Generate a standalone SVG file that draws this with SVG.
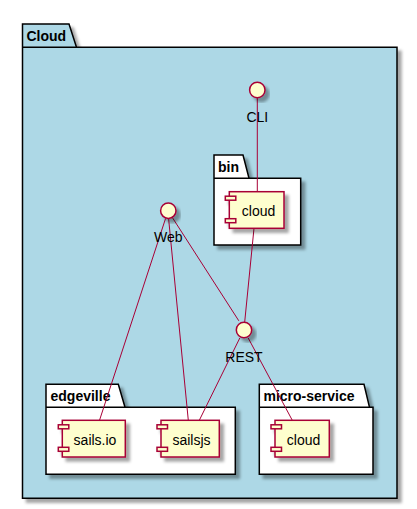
<svg xmlns="http://www.w3.org/2000/svg" width="417" height="509" viewBox="0 0 417 509">
<defs>
<filter id="sh" x="-20%" y="-20%" width="150%" height="150%">
<feGaussianBlur in="SourceAlpha" stdDeviation="1.8"/>
<feOffset dx="3.5" dy="3.5" result="b"/>
<feFlood flood-color="#000" flood-opacity="0.35"/>
<feComposite in2="b" operator="in"/>
<feMerge><feMergeNode/><feMergeNode in="SourceGraphic"/></feMerge>
</filter>
<g id="comp-ports" fill="#FEFECE" stroke="#A80036" stroke-width="1.5">
<rect x="-4" y="4.5" width="10.5" height="4"/>
<rect x="-4" y="27" width="10.5" height="4"/>
</g>
</defs>
<style>
.pkg{stroke:#000;stroke-width:1.5;fill:#fff}
.cloudpkg{fill:#ADD8E6}
.ptitle{font-family:"Liberation Sans",Arial,sans-serif;font-size:14px;font-weight:bold;fill:#000}
.comp rect{fill:#FEFECE;stroke:#A80036;stroke-width:1.5}
.iface circle{fill:#FEFECE;stroke:#A80036;stroke-width:1.5}
.lbl{font-family:"Liberation Sans",Arial,sans-serif;font-size:14px;fill:#000;text-anchor:middle}
.conn line{stroke:#A80036;stroke-width:1}
</style>
<rect width="417" height="509" fill="#fff"/>

<g id="pkg-Cloud">
<path class="pkg cloudpkg" filter="url(#sh)" d="M22.5,24 L69,24 L76.5,47.3 L397,47.3 L397,498.3 L22.5,498.3 Z"/>
<line x1="22.5" y1="47.3" x2="76.5" y2="47.3" stroke="#000" stroke-width="1.5"/>
<text class="ptitle" x="26.5" y="41">Cloud</text>
</g>

<g id="pkg-bin">
<path class="pkg" filter="url(#sh)" d="M214,155 L243,155 L249,178.3 L300.7,178.3 L300.7,245 L214,245 Z"/>
<line x1="214" y1="178.3" x2="249" y2="178.3" stroke="#000" stroke-width="1.5"/>
<text class="ptitle" x="218" y="172">bin</text>
</g>

<g id="pkg-edgeville">
<path class="pkg" filter="url(#sh)" d="M46,384.3 L118.3,384.3 L125,407.3 L235.3,407.3 L235.3,474.3 L46,474.3 Z"/>
<line x1="46" y1="407.3" x2="125" y2="407.3" stroke="#000" stroke-width="1.5"/>
<text class="ptitle" x="50.5" y="401">edgeville</text>
</g>

<g id="pkg-micro-service">
<path class="pkg" filter="url(#sh)" d="M259.3,384.3 L364,384.3 L369.5,407.3 L373,407.3 L373,474.3 L259.3,474.3 Z"/>
<line x1="259.3" y1="407.3" x2="369.5" y2="407.3" stroke="#000" stroke-width="1.5"/>
<text class="ptitle" x="263.5" y="401">micro-service</text>
</g>

<g id="connectors" class="conn">
<line x1="257.3" y1="98" x2="257.3" y2="191.7"/>
<line x1="165.6" y1="218.4" x2="99.5" y2="420.3"/>
<line x1="168.6" y1="218.7" x2="188.3" y2="420.3"/>
<line x1="172" y1="217" x2="238.8" y2="320.8"/>
<line x1="254" y1="228.3" x2="244.7" y2="322"/>
<line x1="239.8" y1="338" x2="199.3" y2="420.3"/>
<line x1="248.2" y1="338" x2="292.3" y2="420.3"/>
</g>

<g id="iface-CLI" class="iface">
<circle cx="257.3" cy="90" r="7.7" filter="url(#sh)"/>
<text class="lbl" x="257.3" y="121.5">CLI</text>
</g>
<g id="iface-Web" class="iface">
<circle cx="168.3" cy="210.7" r="7.7" filter="url(#sh)"/>
<text class="lbl" x="168.3" y="242.3">Web</text>
</g>
<g id="iface-REST" class="iface">
<circle cx="244" cy="330" r="7.7" filter="url(#sh)"/>
<text class="lbl" x="244" y="362">REST</text>
</g>

<g id="comp-bin-cloud" class="comp">
<g filter="url(#sh)">
<rect x="229.3" y="191.7" width="54.7" height="36.6"/>
<use href="#comp-ports" x="229.3" y="191.7"/>
</g>
<text class="lbl" x="258.5" y="216">cloud</text>
</g>

<g id="comp-sails-io" class="comp">
<g filter="url(#sh)">
<rect x="62.3" y="420.3" width="63" height="36.7"/>
<use href="#comp-ports" x="62.3" y="420.3"/>
</g>
<text class="lbl" x="95" y="445">sails.io</text>
</g>

<g id="comp-sailsjs" class="comp">
<g filter="url(#sh)">
<rect x="161" y="420.3" width="58.3" height="36.7"/>
<use href="#comp-ports" x="161" y="420.3"/>
</g>
<text class="lbl" x="191.5" y="445">sailsjs</text>
</g>

<g id="comp-ms-cloud" class="comp">
<g filter="url(#sh)">
<rect x="275" y="420.3" width="54.3" height="36.7"/>
<use href="#comp-ports" x="275" y="420.3"/>
</g>
<text class="lbl" x="303.5" y="445">cloud</text>
</g>
</svg>
